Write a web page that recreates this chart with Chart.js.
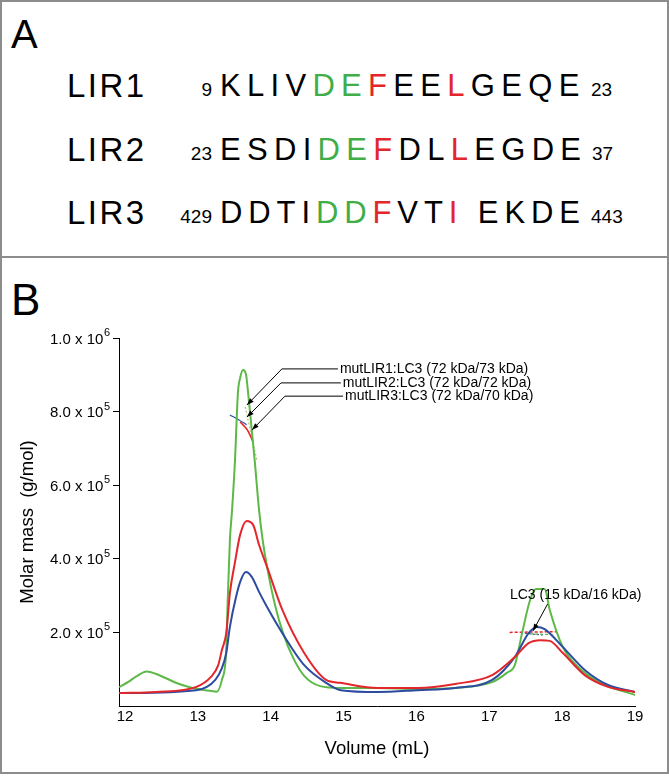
<!DOCTYPE html>
<html>
<head>
<meta charset="utf-8">
<script src="https://cdn.jsdelivr.net/npm/chart.js@4/dist/chart.umd.min.js"></script>
<style>
body { margin:0; width:669px; height:776px; position:relative; background:#fff; overflow:hidden;
       font-family:"Liberation Sans", Arial, sans-serif; }
.panel { position:absolute; left:0; width:669px; box-sizing:border-box; border:2px solid #8c8c8c; }
.t { position:absolute; line-height:0; white-space:pre; color:#000; }
.g { color:#3fae49; }
.r { color:#e2262b; }
#chart { position:absolute; left:0; top:0; }
</style>
</head>
<body>
<div class="panel" style="top:0;height:258px"></div>
<div class="panel" style="top:256px;height:518px"></div>

<div class="t" style="left:11px;top:34px;font-size:40px">A</div>

<div class="t" style="left:67px;top:86px;font-size:33px;letter-spacing:2.5px">LIR1</div>
<div class="t" style="right:457px;top:90px;font-size:19px">9</div>
<div class="t" style="left:220px;top:86px;font-size:31px;letter-spacing:6.3px">KLIV<span class="g">DE</span><span class="r">F</span>EE<span class="r">L</span>GEQE</div>
<div class="t" style="left:591px;top:90px;font-size:19px">23</div>

<div class="t" style="left:67px;top:150px;font-size:33px;letter-spacing:2.5px">LIR2</div>
<div class="t" style="right:457px;top:154px;font-size:19px">23</div>
<div class="t" style="left:220px;top:150px;font-size:31px;letter-spacing:6.3px">ESDI<span class="g">DE</span><span class="r">F</span>DL<span class="r">L</span>EGDE</div>
<div class="t" style="left:592px;top:154px;font-size:19px">37</div>

<div class="t" style="left:67px;top:213px;font-size:33px;letter-spacing:2.5px">LIR3</div>
<div class="t" style="right:457px;top:217px;font-size:19px">429</div>
<div class="t" style="left:220px;top:213px;font-size:31px;letter-spacing:5.9px">DDTI<span class="g">DD</span><span class="r">F</span>VT<span class="r">I</span> EKDE</div>
<div class="t" style="left:591px;top:217px;font-size:19px">443</div>

<div class="t" style="left:11px;top:300px;font-size:44px">B</div>

<canvas id="chart" width="669" height="776"></canvas>

<script>
// elution volume (mL) and signal (g/mol scale)
const greenVolume = [11.92, 12.05, 12.15, 12.30, 12.48, 12.69, 12.89, 13.10, 13.26, 13.33, 13.39, 13.41, 13.44, 13.47, 13.51, 13.55, 13.58, 13.62, 13.66, 13.69, 13.74, 13.78, 13.84, 13.89, 13.95, 14.06, 14.17, 14.31, 14.46, 14.68, 14.96, 15.47, 16.02, 16.53, 17.04, 17.24, 17.35, 17.45, 17.56, 17.64, 17.76, 17.83, 18.01, 18.22, 18.52, 19.0];
const greenSignal = [51000, 66000, 80000, 94000, 83000, 64000, 51000, 43000, 39000, 71000, 152000, 288000, 451000, 533000, 668000, 851000, 891000, 913000, 902000, 851000, 750000, 668000, 533000, 451000, 378000, 274000, 198000, 130000, 82000, 54000, 49000, 49000, 46000, 49000, 65000, 90000, 111000, 198000, 288000, 318000, 318000, 261000, 160000, 106000, 63000, 30000];

const redVolume = [11.92, 12.43, 12.98, 13.18, 13.28, 13.33, 13.39, 13.44, 13.51, 13.58, 13.67, 13.76, 13.84, 13.95, 14.16, 14.46, 14.76, 14.95, 15.47, 16.02, 16.53, 17.04, 17.35, 17.54, 17.70, 17.83, 18.01, 18.31, 18.63, 19.0];
const redSignal = [35000, 38000, 52000, 79000, 111000, 152000, 198000, 307000, 391000, 465000, 503000, 492000, 438000, 378000, 261000, 144000, 71000, 63000, 49000, 49000, 60000, 84000, 133000, 171000, 179000, 177000, 144000, 84000, 52000, 38000];

const blueVolume = [11.92, 12.98, 13.24, 13.33, 13.39, 13.44, 13.52, 13.59, 13.66, 13.74, 13.84, 13.95, 14.16, 14.46, 14.76, 14.96, 15.47, 16.02, 16.53, 17.04, 17.35, 17.54, 17.65, 17.76, 18.01, 18.31, 18.63, 19.0];
const blueSignal = [35000, 43000, 71000, 103000, 144000, 215000, 293000, 342000, 364000, 351000, 310000, 269000, 198000, 111000, 63000, 43000, 38000, 43000, 49000, 71000, 133000, 198000, 215000, 209000, 160000, 98000, 57000, 38000];

// molar mass across the peaks
const blueMassVolume = [13.44, 13.56, 13.67];
const blueMass = [791000, 778000, 764000];
const redMassVolume = [13.58, 13.68, 13.76];
const redMass = [772000, 750000, 717000];
const greenMassVolume = [13.65, 13.72, 13.81];
const greenMass = [813000, 750000, 668000];
const redMass2Volume = [17.28, 17.6, 17.93];
const redMass2 = [200000, 201000, 202000];
const greenMass2Volume = [17.56, 17.72, 17.87];
const greenMass2 = [196000, 195000, 194000];
const blueMass2Volume = [17.49, 17.62, 17.76];
const blueMass2 = [198000, 195000, 193000];

const xTickValues = [12, 13, 14, 15, 16, 17, 18, 19];
const yTickValues = [200000, 400000, 600000, 800000, 1000000];
const yTickMantissa = ['2.0 x 10', '4.0 x 10', '6.0 x 10', '8.0 x 10', '1.0 x 10'];
const yTickExponent = ['5', '5', '5', '5', '6'];
const calloutTexts = ['mutLIR1:LC3 (72 kDa/73 kDa)', 'mutLIR2:LC3 (72 kDa/72 kDa)', 'mutLIR3:LC3 (72 kDa/70 kDa)', 'LC3 (15 kDa/16 kDa)'];

const GREEN = '#5cb947', RED = '#e3262b', BLUE = '#2d4c9f';
const FONT = '"Liberation Sans", Arial, sans-serif';

function pts(xs, ys) {
    return xs.map((v, i) => ({x: v, y: ys[i]}));
}

function trace(xs, ys, color, width, dash) {
    return {
        data: pts(xs, ys),
        borderColor: color,
        borderWidth: width,
        borderDash: dash || [],
        pointRadius: 0,
        fill: false,
        cubicInterpolationMode: 'monotone'
    };
}

function arrowHead(ctx, x0, y0, x1, y1) {
    let a = Math.atan2(y1 - y0, x1 - x0);
    ctx.beginPath();
    ctx.moveTo(x1, y1);
    ctx.lineTo(x1 - 7 * Math.cos(a) + 2.5 * Math.sin(a), y1 - 7 * Math.sin(a) - 2.5 * Math.cos(a));
    ctx.lineTo(x1 - 7 * Math.cos(a) - 2.5 * Math.sin(a), y1 - 7 * Math.sin(a) + 2.5 * Math.cos(a));
    ctx.closePath();
    ctx.fill();
}

// y labels need a real superscript, so they are drawn here at the scale's tick positions
const powerLabels = {
    id: 'powerLabels',
    afterDraw(chart) {
        const {ctx} = chart;
        const y = chart.scales.y;
        const right = y.right - 6 - 3;
        ctx.save();
        ctx.fillStyle = '#000';
        ctx.textBaseline = 'alphabetic';
        ctx.textAlign = 'left';
        yTickValues.forEach((v, i) => {
            let py = y.getPixelForValue(v);
            ctx.font = '11px ' + FONT;
            let ew = ctx.measureText(yTickExponent[i]).width;
            ctx.fillText(yTickExponent[i], right - ew, py - 2);
            ctx.font = '15px ' + FONT;
            let mw = ctx.measureText(yTickMantissa[i]).width;
            ctx.fillText(yTickMantissa[i], right - ew - mw - 0.5, py + 5.5);
        });
        ctx.restore();
    }
};

const calloutPlugin = {
    id: 'callouts',
    afterDatasetsDraw(chart) {
        const {ctx} = chart;
        const x = chart.scales.x, y = chart.scales.y;
        // text start, elbow and arrow tip, in axis units
        const spots = [
            {tx: 14.95, ty: 916000, ex: 14.154, tipx: 13.674, tipy: 818000},
            {tx: 14.99, ty: 878000, ex: 14.141, tipx: 13.674, tipy: 785000},
            {tx: 15.02, ty: 842000, ex: 14.196, tipx: 13.743, tipy: 750000}
        ];
        ctx.save();
        ctx.strokeStyle = '#000';
        ctx.fillStyle = '#000';
        ctx.lineWidth = 1;
        ctx.font = '14px ' + FONT;
        ctx.textBaseline = 'middle';
        spots.forEach((s, i) => {
            let px = x.getPixelForValue(s.tx), py = y.getPixelForValue(s.ty);
            let ex = x.getPixelForValue(s.ex);
            let ax = x.getPixelForValue(s.tipx), ay = y.getPixelForValue(s.tipy);
            ctx.beginPath();
            ctx.moveTo(px - 2, py);
            ctx.lineTo(ex, py);
            ctx.lineTo(ax, ay);
            ctx.stroke();
            arrowHead(ctx, ex, py, ax, ay);
            ctx.fillText(calloutTexts[i], px, py);
        });
        // LC3 label
        let lx = x.getPixelForValue(17.283), ly = y.getPixelForValue(302000);
        ctx.fillText(calloutTexts[3], lx, ly);
        let sx = x.getPixelForValue(17.80), sy = y.getPixelForValue(277000);
        let ax = x.getPixelForValue(17.60), ay = y.getPixelForValue(204000);
        ctx.beginPath();
        ctx.moveTo(sx, sy);
        ctx.lineTo(ax, ay);
        ctx.stroke();
        arrowHead(ctx, sx, sy, ax, ay);
        ctx.restore();
    }
};

Chart.defaults.font.family = FONT;
Chart.defaults.color = '#000';

new Chart(document.getElementById('chart'), {
    type: 'line',
    data: {
        datasets: [
            trace(redVolume, redSignal, RED, 2),
            trace(blueVolume, blueSignal, BLUE, 2),
            trace(greenVolume, greenSignal, GREEN, 2),
            trace(blueMassVolume, blueMass, BLUE, 1.2),
            trace(redMassVolume, redMass, RED, 1.5),
            trace(greenMassVolume, greenMass, '#a9c97a', 1.2, [2, 2]),
            trace(redMass2Volume, redMass2, RED, 1.5, [3, 2]),
            trace(greenMass2Volume, greenMass2, GREEN, 1.2, [3, 2]),
            trace(blueMass2Volume, blueMass2, BLUE, 1.2, [2, 2])
        ]
    },
    options: {
        responsive: false,
        animation: false,
        events: [],
        layout: {padding: {left: 0, top: 338, right: 34, bottom: 0}},
        plugins: {legend: {display: false}, tooltip: {enabled: false}},
        scales: {
            x: {
                type: 'linear',
                min: 11.918,
                max: 19,
                afterBuildTicks: (s) => { s.ticks = xTickValues.map(v => ({value: v})); },
                afterFit: (s) => { s.height = 70; },
                grid: {display: false, drawTicks: false},
                border: {display: true, color: '#000', width: 1},
                ticks: {font: {size: 15}, color: '#000', padding: 2, maxRotation: 0, autoSkip: false},
                title: {display: true, text: 'Volume (mL)', font: {size: 18.5}, color: '#000', padding: {bottom: 16}}
            },
            y: {
                min: 0,
                max: 1000000,
                afterBuildTicks: (s) => { s.ticks = yTickValues.map(v => ({value: v})); },
                afterFit: (s) => { s.width = 119; },
                grid: {drawOnChartArea: false, drawTicks: true, tickLength: 6, color: '#000', lineWidth: 1},
                border: {display: true, color: '#000', width: 1},
                ticks: {display: false},
                title: {display: true, text: 'Molar mass  (g/mol)', font: {size: 18.5}, color: '#000', padding: {top: 17}}
            }
        }
    },
    plugins: [calloutPlugin, powerLabels]
});
</script>
</body>
</html>
